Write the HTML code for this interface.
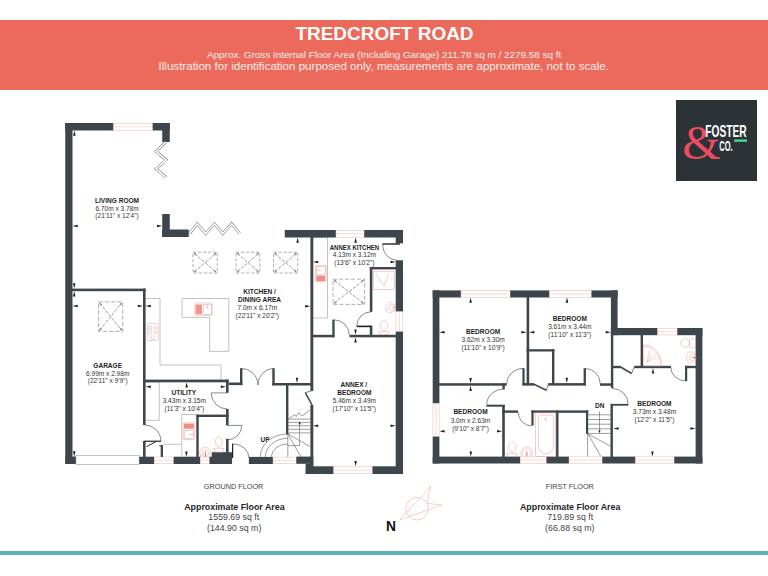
<!DOCTYPE html>
<html lang="en"><head><meta charset="utf-8"><title>Tredcroft Road</title>
<style>
html,body{margin:0;padding:0;background:#fff;}
body{width:768px;height:576px;position:relative;overflow:hidden;font-family:"Liberation Sans",sans-serif;}
.banner{position:absolute;left:0;top:20px;width:768px;height:69.7px;background:#ec6a5c;}
.logo{position:absolute;left:676px;top:99.5px;width:81px;height:81px;background:#2c3336;}
.bar{position:absolute;left:0;top:550.5px;width:768px;height:4.5px;background:#5bb1b5;}
svg{position:absolute;left:0;top:0;}
svg text{font-family:"Liberation Sans",sans-serif;}
</style></head><body>
<div class="banner"></div>
<div class="logo">
<svg width="81" height="81" viewBox="0 0 81 81">
<text x="6.6" y="59.4" font-size="49" fill="#ee4a62" style="font-family:'Liberation Serif',serif">&amp;</text>
<text x="29.3" y="37.2" font-size="16.3" font-weight="700" fill="#fff" textLength="41.4" lengthAdjust="spacingAndGlyphs">FOSTER</text>
<text x="43.2" y="50.8" font-size="14.4" font-weight="700" fill="#fff" textLength="13.4" lengthAdjust="spacingAndGlyphs">CO.</text>
<rect x="58.2" y="39.4" width="12.8" height="2.4" fill="#3ddc97"/>
</svg></div>
<svg width="768" height="576" viewBox="0 0 768 576">
<text x="295.4" y="39.6" font-size="18.3" font-weight="700" fill="#fff" textLength="178.2" lengthAdjust="spacingAndGlyphs">TREDCROFT ROAD</text>
<text x="207" y="57.8" font-size="9.9" fill="#fdeeeb" textLength="354.2" lengthAdjust="spacingAndGlyphs">Approx. Gross Internal Floor Area (Including Garage) 211.78 sq m / 2279.58 sq ft</text>
<text x="158.6" y="70.3" font-size="10.9" fill="#fdeeeb" textLength="450.3" lengthAdjust="spacingAndGlyphs">Illustration for identification purposed only, measurements are approximate, not to scale.</text>
<path d="M145.5 298.5 H160 V365 H221 V380" stroke="#a6a9ab" stroke-width="0.7" fill="none" />
<path d="M182.1 298.5 H228.8 V351.4 H209.6 V317.4 H182.1 Z" stroke="#a6a9ab" stroke-width="0.7" fill="none" />
<path d="M313 237.5 H327.5 V318 H313" stroke="#a6a9ab" stroke-width="0.7" fill="none" />
<path d="M145.7 382 H159.3 V420.3 H145.7" stroke="#a6a9ab" stroke-width="0.7" fill="none" />
<path d="M181.8 456 V414.5 H196.3" stroke="#a6a9ab" stroke-width="0.7" fill="none" />
<path d="M163 444.3 H181.8" stroke="#a6a9ab" stroke-width="0.7" fill="none" />
<rect x="65.25" y="123.00" width="7.25" height="341.00" fill="#3c464c" />
<rect x="65.25" y="123.00" width="48.25" height="7.50" fill="#3c464c" />
<rect x="113.50" y="123.25" width="39.25" height="7.00" fill="#fff" stroke="#efb4ab" stroke-width="0.5"/>
<line x1="113.50" y1="126.75" x2="152.75" y2="126.75" stroke="#efb4ab" stroke-width="0.5"/>
<rect x="152.75" y="123.00" width="17.00" height="7.50" fill="#3c464c" />
<rect x="162.25" y="123.00" width="7.50" height="19.00" fill="#3c464c" />
<rect x="162.25" y="214.00" width="7.50" height="23.00" fill="#3c464c" />
<rect x="162.25" y="229.50" width="26.50" height="7.50" fill="#3c464c" />
<rect x="284.75" y="230.00" width="51.25" height="7.50" fill="#3c464c" />
<rect x="336.00" y="230.25" width="28.25" height="7.00" fill="#fff" stroke="#efb4ab" stroke-width="0.5"/>
<line x1="336.00" y1="233.75" x2="364.25" y2="233.75" stroke="#efb4ab" stroke-width="0.5"/>
<rect x="364.25" y="230.00" width="38.75" height="7.50" fill="#3c464c" />
<rect x="395.70" y="230.00" width="7.30" height="13.30" fill="#3c464c" />
<rect x="395.70" y="260.30" width="7.30" height="51.40" fill="#3c464c" />
<rect x="395.95" y="311.70" width="6.80" height="20.00" fill="#fff" stroke="#efb4ab" stroke-width="0.5"/>
<line x1="399.35" y1="311.70" x2="399.35" y2="331.70" stroke="#efb4ab" stroke-width="0.5"/>
<rect x="395.70" y="331.70" width="7.30" height="142.30" fill="#3c464c" />
<rect x="65.25" y="456.50" width="10.75" height="7.50" fill="#3c464c" />
<rect x="76" y="455.6" width="63.2" height="9" fill="#fff" stroke="#9aa0a4" stroke-width="0.6"/>
<rect x="139.20" y="456.70" width="15.10" height="7.30" fill="#3c464c" />
<rect x="154.30" y="456.95" width="19.40" height="6.80" fill="#fff" stroke="#efb4ab" stroke-width="0.5"/>
<line x1="154.30" y1="460.35" x2="173.70" y2="460.35" stroke="#efb4ab" stroke-width="0.5"/>
<rect x="173.70" y="456.70" width="26.60" height="7.30" fill="#3c464c" />
<rect x="200.30" y="456.95" width="9.20" height="6.80" fill="#fff" stroke="#efb4ab" stroke-width="0.5"/>
<line x1="200.30" y1="460.35" x2="209.50" y2="460.35" stroke="#efb4ab" stroke-width="0.5"/>
<rect x="209.50" y="456.70" width="22.50" height="7.30" fill="#3c464c" />
<rect x="211.80" y="452.20" width="20.20" height="11.80" fill="#3c464c" />
<rect x="248.90" y="456.90" width="24.10" height="7.10" fill="#3c464c" />
<rect x="273.00" y="457.15" width="23.30" height="6.60" fill="#fff" stroke="#efb4ab" stroke-width="0.5"/>
<line x1="273.00" y1="460.45" x2="296.30" y2="460.45" stroke="#efb4ab" stroke-width="0.5"/>
<rect x="296.30" y="456.60" width="17.00" height="7.20" fill="#3c464c" />
<rect x="305.70" y="463.70" width="7.60" height="10.30" fill="#3c464c" />
<rect x="305.70" y="466.30" width="27.90" height="7.70" fill="#3c464c" />
<rect x="333.80" y="466.55" width="38.70" height="7.20" fill="#fff" stroke="#efb4ab" stroke-width="0.5"/>
<line x1="333.80" y1="470.15" x2="372.50" y2="470.15" stroke="#efb4ab" stroke-width="0.5"/>
<rect x="372.50" y="466.30" width="30.50" height="7.70" fill="#3c464c" />
<rect x="72.00" y="288.60" width="73.60" height="2.60" fill="#3c464c" />
<rect x="143.00" y="288.60" width="2.60" height="136.40" fill="#3c464c" />
<rect x="143.00" y="441.00" width="2.60" height="16.00" fill="#3c464c" />
<rect x="143.00" y="379.60" width="85.60" height="2.70" fill="#3c464c" />
<rect x="226.00" y="379.60" width="2.60" height="13.20" fill="#3c464c" />
<rect x="228.60" y="382.50" width="13.80" height="2.60" fill="#3c464c" />
<rect x="240.00" y="368.30" width="2.40" height="16.80" fill="#3c464c" />
<rect x="272.30" y="368.30" width="2.40" height="17.00" fill="#3c464c" />
<rect x="272.30" y="383.00" width="39.20" height="2.50" fill="#3c464c" />
<rect x="310.40" y="237.00" width="2.90" height="153.90" fill="#3c464c" />
<rect x="310.40" y="404.80" width="2.90" height="61.60" fill="#3c464c" />
<rect x="313.00" y="334.80" width="21.50" height="2.50" fill="#3c464c" />
<rect x="332.30" y="319.70" width="2.30" height="17.60" fill="#3c464c" />
<rect x="349.50" y="334.80" width="46.50" height="2.50" fill="#3c464c" />
<rect x="369.80" y="267.00" width="26.20" height="2.40" fill="#3c464c" />
<rect x="369.80" y="267.00" width="2.60" height="44.80" fill="#3c464c" />
<rect x="369.80" y="325.60" width="2.60" height="9.40" fill="#3c464c" />
<rect x="286.00" y="385.00" width="2.40" height="49.30" fill="#3c464c" />
<rect x="226.00" y="409.00" width="2.60" height="16.30" fill="#3c464c" />
<rect x="196.30" y="414.60" width="32.30" height="2.40" fill="#3c464c" />
<rect x="196.30" y="414.60" width="2.40" height="42.40" fill="#3c464c" />
<rect x="226.00" y="438.80" width="2.60" height="14.20" fill="#3c464c" />
<rect x="160.70" y="445.20" width="2.30" height="11.80" fill="#3c464c" />
<rect x="159.40" y="445.20" width="3.60" height="1.20" fill="#3c464c" />
<path d="M144.3 441.2 H161" stroke=" #111" stroke-width="1.1" fill="none" />
<path d="M156 441.6 L146.6 446.6" stroke="#111" stroke-width="0.9" fill="none" />
<path d="M161 441.2 A16.6 16.6 0 0 0 144.4 424.9" stroke="#3e4347" stroke-width="0.62" fill="none" />
<path d="M227.3 392.9 H211.2 A16.1 16.1 0 0 0 227.3 409" stroke="#3e4347" stroke-width="0.62" fill="none" />
<path d="M227.3 425.4 H241.8 A14.5 14.5 0 0 1 227.3 439.9" stroke="#3e4347" stroke-width="0.62" fill="none" />
<path d="M232.6 458 V443.8" stroke="#222" stroke-width="1.2" fill="none" />
<path d="M232.6 443.8 A16.4 14.4 0 0 1 249 458" stroke="#3e4347" stroke-width="0.62" fill="none" />
<path d="M241.2 368.4 A16.8 16.8 0 0 1 258 385" stroke="#3e4347" stroke-width="0.62" fill="none" />
<path d="M273.5 368.4 A15.7 16.8 0 0 0 258 385" stroke="#3e4347" stroke-width="0.62" fill="none" />
<path d="M305.2 392.7 L311.9 404.6" stroke="#3c464c" stroke-width="1.5" fill="none" />
<path d="M311.6 390.9 L305.2 392.7" stroke="#3c464c" stroke-width="0.7" fill="none" />
<path d="M333.5 319.8 A15.6 15.2 0 0 1 349.3 335" stroke="#3e4347" stroke-width="0.62" fill="none" />
<path d="M371 326.4 H356.7" stroke="#222" stroke-width="1.6" fill="none" />
<path d="M356.7 326.4 A14.4 14.6 0 0 1 371 311.8" stroke="#3e4347" stroke-width="0.62" fill="none" />
<path d="M400 244 H382.5" stroke="#111" stroke-width="1.3" fill="none" />
<path d="M382.5 244 A13.6 16 0 0 0 395.9 260" stroke="#3e4347" stroke-width="0.62" fill="none" />
<path d="M165.90 142.00 L156.10 151.40 L166.10 159.90 L156.10 168.90 L166.20 177.30" stroke="#6d7276" stroke-width="2.7" fill="none" stroke-linejoin="miter" stroke-miterlimit="10"/>
<path d="M165.90 142.00 L156.10 151.40 L166.10 159.90 L156.10 168.90 L166.20 177.30" stroke="#fff" stroke-width="1.7" fill="none" stroke-linejoin="miter" stroke-miterlimit="10"/>
<path d="M189.60 233.60 L197.30 223.70 L205.60 233.60 L214.50 223.70 L222.80 233.60 L231.50 223.70 L239.70 233.60" stroke="#6d7276" stroke-width="2.7" fill="none" stroke-linejoin="miter" stroke-miterlimit="10"/>
<path d="M189.60 233.60 L197.30 223.70 L205.60 233.60 L214.50 223.70 L222.80 233.60 L231.50 223.70 L239.70 233.60" stroke="#fff" stroke-width="1.7" fill="none" stroke-linejoin="miter" stroke-miterlimit="10"/>
<rect x="193.00" y="252.20" width="24.20" height="20.80" fill="none" stroke="#8a8f93" stroke-width="0.7" stroke-dasharray="3.3 1.7"/>
<line x1="194.40" y1="253.60" x2="215.80" y2="271.60" stroke="#858a8d" stroke-width="0.8" stroke-dasharray="3.4 1.3"/>
<line x1="194.40" y1="271.60" x2="215.80" y2="253.60" stroke="#858a8d" stroke-width="0.8" stroke-dasharray="3.4 1.3"/>
<polygon points="193.38,252.53 195.16,255.51 196.60,253.84" fill="#858a8d"/>
<polygon points="216.82,252.53 213.60,253.84 215.04,255.51" fill="#858a8d"/>
<polygon points="193.38,272.67 196.60,271.36 195.16,269.69" fill="#858a8d"/>
<polygon points="216.82,272.67 215.04,269.69 213.60,271.36" fill="#858a8d"/>
<rect x="236.00" y="252.20" width="23.80" height="20.80" fill="none" stroke="#8a8f93" stroke-width="0.7" stroke-dasharray="3.3 1.7"/>
<line x1="237.40" y1="253.60" x2="258.40" y2="271.60" stroke="#858a8d" stroke-width="0.8" stroke-dasharray="3.4 1.3"/>
<line x1="237.40" y1="271.60" x2="258.40" y2="253.60" stroke="#858a8d" stroke-width="0.8" stroke-dasharray="3.4 1.3"/>
<polygon points="236.38,252.53 238.14,255.53 239.59,253.87" fill="#858a8d"/>
<polygon points="259.42,252.53 256.21,253.87 257.66,255.53" fill="#858a8d"/>
<polygon points="236.38,272.67 239.59,271.33 238.14,269.67" fill="#858a8d"/>
<polygon points="259.42,272.67 257.66,269.67 256.21,271.33" fill="#858a8d"/>
<rect x="273.50" y="252.20" width="24.20" height="20.80" fill="none" stroke="#8a8f93" stroke-width="0.7" stroke-dasharray="3.3 1.7"/>
<line x1="274.90" y1="253.60" x2="296.30" y2="271.60" stroke="#858a8d" stroke-width="0.8" stroke-dasharray="3.4 1.3"/>
<line x1="274.90" y1="271.60" x2="296.30" y2="253.60" stroke="#858a8d" stroke-width="0.8" stroke-dasharray="3.4 1.3"/>
<polygon points="273.88,252.53 275.66,255.51 277.10,253.84" fill="#858a8d"/>
<polygon points="297.32,252.53 294.10,253.84 295.54,255.51" fill="#858a8d"/>
<polygon points="273.88,272.67 277.10,271.36 275.66,269.69" fill="#858a8d"/>
<polygon points="297.32,272.67 295.54,269.69 294.10,271.36" fill="#858a8d"/>
<rect x="98.60" y="301.90" width="24.10" height="29.50" fill="none" stroke="#8a8f93" stroke-width="0.7" stroke-dasharray="4.3 2"/>
<line x1="100.00" y1="303.30" x2="121.30" y2="330.00" stroke="#858a8d" stroke-width="0.8" stroke-dasharray="3.4 1.3"/>
<line x1="100.00" y1="330.00" x2="121.30" y2="303.30" stroke="#858a8d" stroke-width="0.8" stroke-dasharray="3.4 1.3"/>
<polygon points="98.92,302.29 100.15,305.54 101.86,304.15" fill="#858a8d"/>
<polygon points="122.38,302.29 119.44,304.15 121.15,305.54" fill="#858a8d"/>
<polygon points="98.92,331.01 101.86,329.15 100.15,327.76" fill="#858a8d"/>
<polygon points="122.38,331.01 121.15,327.76 119.44,329.15" fill="#858a8d"/>
<rect x="333.00" y="279.20" width="31.60" height="25.20" fill="none" stroke="#8a8f93" stroke-width="0.7" stroke-dasharray="4 2"/>
<line x1="334.40" y1="280.60" x2="363.20" y2="303.00" stroke="#858a8d" stroke-width="0.8" stroke-dasharray="3.4 1.3"/>
<line x1="334.40" y1="303.00" x2="363.20" y2="280.60" stroke="#858a8d" stroke-width="0.8" stroke-dasharray="3.4 1.3"/>
<polygon points="333.39,279.51 335.29,282.43 336.66,280.71" fill="#858a8d"/>
<polygon points="364.21,279.51 360.94,280.71 362.31,282.43" fill="#858a8d"/>
<polygon points="333.39,304.09 336.66,302.89 335.29,301.17" fill="#858a8d"/>
<polygon points="364.21,304.09 362.31,301.17 360.94,302.89" fill="#858a8d"/>
<rect x="147.25" y="323.50" width="10.85" height="17.00" fill="none" stroke="#ec9b91" stroke-width="0.5" rx="1.5"/>
<circle cx="150.00" cy="328.00" r="1.8" fill="none" stroke="#ec9b91" stroke-width="0.5"/>
<circle cx="150.00" cy="332.60" r="1.6" fill="none" stroke="#ec9b91" stroke-width="0.5"/>
<circle cx="152.50" cy="337.50" r="1.9" fill="none" stroke="#ec9b91" stroke-width="0.5"/>
<circle cx="155.25" cy="328.00" r="1.4" fill="none" stroke="#ec9b91" stroke-width="0.5"/>
<circle cx="155.25" cy="332.60" r="1.4" fill="none" stroke="#ec9b91" stroke-width="0.5"/>
<rect x="194.60" y="303.00" width="17.65" height="12.50" fill="none" stroke="#ec9b91" stroke-width="0.5" rx="1.5"/>
<rect x="195.60" y="304.40" width="6.30" height="10.00" fill="#f0958b" />
<rect x="203.10" y="304.40" width="8.15" height="10.00" fill="none" stroke="#ec9b91" stroke-width="0.5" rx="0"/>
<line x1="207.20" y1="304.40" x2="207.20" y2="309.00" stroke="#ec9b91" stroke-width="0.7" />
<rect x="315.30" y="265.30" width="10.90" height="16.70" fill="none" stroke="#ec9b91" stroke-width="0.5" rx="1"/>
<rect x="316.20" y="275.70" width="9.10" height="5.50" fill="#ef8f84" />
<rect x="316.40" y="266.40" width="8.80" height="8.00" fill="none" stroke="#ec9b91" stroke-width="0.5" rx="0"/>
<line x1="316.40" y1="270.30" x2="321.00" y2="270.30" stroke="#ec9b91" stroke-width="0.6" />
<rect x="183.20" y="422.80" width="11.50" height="16.70" fill="none" stroke="#ec9b91" stroke-width="0.5" rx="1"/>
<rect x="184.00" y="423.60" width="9.90" height="5.20" fill="#ef8f84" />
<rect x="184.20" y="430.50" width="9.50" height="8.00" fill="none" stroke="#ec9b91" stroke-width="0.5" rx="0"/>
<line x1="193.70" y1="434.50" x2="189.00" y2="434.50" stroke="#ec9b91" stroke-width="0.6" />
<ellipse cx="218.90" cy="441.80" rx="3.6" ry="4.9" fill="none" stroke="#ec9b91" stroke-width="0.5"/>
<rect x="214.20" y="448.10" width="9.40" height="3.90" fill="none" stroke="#ec9b91" stroke-width="0.5" rx="0"/>
<path d="M201.35 456.8 A5.55 5.55 0 1 1 209.25 456.8" stroke="#ec9b91" stroke-width="0.5" fill="none" />
<circle cx="205.30" cy="453.10" r="3.4" fill="none" stroke="#ec9b91" stroke-width="0.5"/>
<line x1="205.30" y1="451.60" x2="205.30" y2="456.80" stroke="#e0574c" stroke-width="0.9" />
<rect x="373.40" y="271.20" width="20.80" height="18.10" fill="none" stroke="#ec9b91" stroke-width="0.5" rx="0"/>
<path d="M376 274 L384 286 L389 274" stroke="#ec9b91" stroke-width="0.5" fill="none" />
<path d="M392 274 V283" stroke="#ec9b91" stroke-width="0.5" fill="none" stroke-dasharray="1 1.5"/>
<ellipse cx="390.40" cy="307.40" rx="4.6" ry="5.2" fill="none" stroke="#ec9b91" stroke-width="0.5"/>
<ellipse cx="391.60" cy="307.40" rx="2.8" ry="3.2" fill="none" stroke="#ec9b91" stroke-width="0.5"/>
<line x1="392.50" y1="307.40" x2="396.00" y2="307.40" stroke="#ec9b91" stroke-width="0.8" />
<ellipse cx="383.80" cy="325.50" rx="3.7" ry="5.2" fill="none" stroke="#ec9b91" stroke-width="0.5"/>
<rect x="379.20" y="331.80" width="9.20" height="2.70" fill="none" stroke="#ec9b91" stroke-width="0.5" rx="0"/>
<line x1="288.40" y1="419.10" x2="310.30" y2="419.10" stroke="#4a4f53" stroke-width="0.55" />
<line x1="288.40" y1="422.40" x2="310.30" y2="422.40" stroke="#4a4f53" stroke-width="0.55" />
<line x1="288.40" y1="425.80" x2="310.30" y2="425.80" stroke="#4a4f53" stroke-width="0.55" />
<line x1="288.40" y1="429.30" x2="310.30" y2="429.30" stroke="#4a4f53" stroke-width="0.55" />
<line x1="288.40" y1="432.90" x2="310.30" y2="432.90" stroke="#4a4f53" stroke-width="0.55" />
<path d="M288.6 418.9 L294.8 414.6 L296.2 416.6 L298.6 412.6 L300.2 414.9 L303 415.5 L310.3 409.6" stroke="#4a4f53" stroke-width="0.55" fill="none" />
<path d="M299.6 423.5 V445.6 H288" stroke="#4a4f53" stroke-width="0.55" fill="none" />
<polygon points="299.6,421.2 298.5,424.2 300.7,424.2" fill="#222"/>
<line x1="287.80" y1="433.50" x2="287.80" y2="456.90" stroke="#4a4f53" stroke-width="0.55" />
<line x1="287.80" y1="433.90" x2="310.30" y2="446.70" stroke="#4a4f53" stroke-width="0.55" />
<line x1="287.80" y1="433.90" x2="300.90" y2="456.90" stroke="#4a4f53" stroke-width="0.55" />
<path d="M260.3 456.9 A27.5 23 0 0 1 287.8 433.9" stroke="#4a4f53" stroke-width="0.55" fill="none" />
<path d="M265.3 456.9 A22.5 18.6 0 0 1 287.8 438.3" stroke="#4a4f53" stroke-width="0.55" fill="none" />
<path d="M271.4 456.9 A16.4 13 0 0 1 287.8 443.9" stroke="#4a4f53" stroke-width="0.55" fill="none" />
<polygon points="74.40,130.60 73.15,135.80 75.65,135.80" fill="#1c1c1c"/>
<polygon points="74.20,288.50 72.95,283.30 75.45,283.30" fill="#1c1c1c"/>
<polygon points="74.20,291.30 72.95,296.50 75.45,296.50" fill="#1c1c1c"/>
<polygon points="74.20,456.50 72.95,451.30 75.45,451.30" fill="#1c1c1c"/>
<polygon points="72.50,225.90 77.70,224.65 77.70,227.15" fill="#1c1c1c"/>
<polygon points="162.20,225.90 157.00,224.65 157.00,227.15" fill="#1c1c1c"/>
<polygon points="72.50,306.00 77.70,304.75 77.70,307.25" fill="#1c1c1c"/>
<polygon points="143.00,306.00 137.80,304.75 137.80,307.25" fill="#1c1c1c"/>
<polygon points="145.60,306.00 150.80,304.75 150.80,307.25" fill="#1c1c1c"/>
<polygon points="310.30,306.30 305.10,305.05 305.10,307.55" fill="#1c1c1c"/>
<polygon points="297.60,237.60 296.35,242.80 298.85,242.80" fill="#1c1c1c"/>
<polygon points="297.00,383.00 295.75,377.80 298.25,377.80" fill="#1c1c1c"/>
<polygon points="313.00,262.00 318.20,260.75 318.20,263.25" fill="#1c1c1c"/>
<polygon points="395.70,262.00 390.50,260.75 390.50,263.25" fill="#1c1c1c"/>
<polygon points="355.60,237.60 354.35,242.80 356.85,242.80" fill="#1c1c1c"/>
<polygon points="355.50,334.80 354.25,329.60 356.75,329.60" fill="#1c1c1c"/>
<polygon points="355.50,337.40 354.25,342.60 356.75,342.60" fill="#1c1c1c"/>
<polygon points="355.60,466.30 354.35,461.10 356.85,461.10" fill="#1c1c1c"/>
<polygon points="313.00,425.80 318.20,424.55 318.20,427.05" fill="#1c1c1c"/>
<polygon points="395.70,425.80 390.50,424.55 390.50,427.05" fill="#1c1c1c"/>
<polygon points="145.60,386.80 150.80,385.55 150.80,388.05" fill="#1c1c1c"/>
<polygon points="226.00,386.80 220.80,385.55 220.80,388.05" fill="#1c1c1c"/>
<polygon points="186.60,382.40 185.35,387.60 187.85,387.60" fill="#1c1c1c"/>
<polygon points="186.40,456.70 185.15,451.50 187.65,451.50" fill="#1c1c1c"/>
<text x="117.05" y="203.00" font-size="6.55" font-weight="700" fill="#1e1e1e" text-anchor="middle">LIVING ROOM</text>
<text x="117.05" y="210.70" font-size="6.55" fill="#333" text-anchor="middle">6.70m x 3.78m</text>
<text x="117.05" y="218.20" font-size="6.55" fill="#333" text-anchor="middle">(21'11&quot; x 12'4&quot;)</text>
<text x="259.55" y="294.40" font-size="6.55" font-weight="700" fill="#1e1e1e" text-anchor="middle">KITCHEN /</text>
<text x="259.55" y="301.90" font-size="6.55" font-weight="700" fill="#1e1e1e" text-anchor="middle">DINING AREA</text>
<text x="257.30" y="309.80" font-size="6.55" fill="#333" text-anchor="middle">7.0m x 6.17m</text>
<text x="257.30" y="318.00" font-size="6.55" fill="#333" text-anchor="middle">(22'11&quot; x 20'2&quot;)</text>
<text x="107.70" y="367.50" font-size="6.55" font-weight="700" fill="#1e1e1e" text-anchor="middle">GARAGE</text>
<text x="107.70" y="375.60" font-size="6.55" fill="#333" text-anchor="middle">6.99m x 2.98m</text>
<text x="107.70" y="383.10" font-size="6.55" fill="#333" text-anchor="middle">(22'11&quot; x 9'9&quot;)</text>
<text x="183.80" y="395.25" font-size="6.55" font-weight="700" fill="#1e1e1e" text-anchor="middle">UTILITY</text>
<text x="184.30" y="403.20" font-size="6.55" fill="#333" text-anchor="middle">3.43m x 3.15m</text>
<text x="184.40" y="411.10" font-size="6.55" fill="#333" text-anchor="middle">(11'3&quot; x 10'4&quot;)</text>
<text x="354.40" y="249.60" font-size="6.55" font-weight="700" fill="#1e1e1e" text-anchor="middle" textLength="49.30" lengthAdjust="spacingAndGlyphs">ANNEX KITCHEN</text>
<text x="354.40" y="256.80" font-size="6.55" fill="#333" text-anchor="middle">4.13m x 3.12m</text>
<text x="354.40" y="264.60" font-size="6.55" fill="#333" text-anchor="middle">(13'6&quot; x 10'2&quot;)</text>
<text x="353.90" y="387.25" font-size="6.55" font-weight="700" fill="#1e1e1e" text-anchor="middle">ANNEX /</text>
<text x="354.40" y="395.30" font-size="6.55" font-weight="700" fill="#1e1e1e" text-anchor="middle">BEDROOM</text>
<text x="354.40" y="403.30" font-size="6.55" fill="#333" text-anchor="middle">5.46m x 3.49m</text>
<text x="354.30" y="411.20" font-size="6.55" fill="#333" text-anchor="middle">(17'10&quot; x 11'5&quot;)</text>
<text x="265.1" y="442.2" font-size="6.5" font-weight="700" fill="#1e1e1e" text-anchor="middle">UP</text>
<rect x="432.70" y="290.40" width="6.70" height="113.00" fill="#3c464c" />
<rect x="432.95" y="403.40" width="6.20" height="33.20" fill="#fff" stroke="#efb4ab" stroke-width="0.5"/>
<line x1="436.05" y1="403.40" x2="436.05" y2="436.60" stroke="#efb4ab" stroke-width="0.5"/>
<rect x="432.70" y="436.60" width="6.70" height="26.90" fill="#3c464c" />
<rect x="432.70" y="290.40" width="28.30" height="7.10" fill="#3c464c" />
<rect x="461.00" y="290.65" width="49.20" height="6.60" fill="#fff" stroke="#efb4ab" stroke-width="0.5"/>
<line x1="461.00" y1="293.95" x2="510.20" y2="293.95" stroke="#efb4ab" stroke-width="0.5"/>
<rect x="510.20" y="290.40" width="39.30" height="7.10" fill="#3c464c" />
<rect x="549.50" y="290.65" width="42.00" height="6.60" fill="#fff" stroke="#efb4ab" stroke-width="0.5"/>
<line x1="549.50" y1="293.95" x2="591.50" y2="293.95" stroke="#efb4ab" stroke-width="0.5"/>
<rect x="591.50" y="290.40" width="26.10" height="7.10" fill="#3c464c" />
<rect x="610.90" y="290.40" width="6.70" height="44.80" fill="#3c464c" />
<rect x="610.90" y="328.00" width="46.70" height="7.20" fill="#3c464c" />
<rect x="657.60" y="328.25" width="19.70" height="6.70" fill="#fff" stroke="#efb4ab" stroke-width="0.5"/>
<line x1="657.60" y1="331.60" x2="677.30" y2="331.60" stroke="#efb4ab" stroke-width="0.5"/>
<rect x="677.30" y="328.00" width="25.10" height="7.20" fill="#3c464c" />
<rect x="695.60" y="328.00" width="6.80" height="135.50" fill="#3c464c" />
<rect x="432.70" y="456.60" width="87.60" height="6.90" fill="#3c464c" />
<rect x="520.30" y="456.85" width="26.20" height="6.40" fill="#fff" stroke="#efb4ab" stroke-width="0.5"/>
<line x1="520.30" y1="460.05" x2="546.50" y2="460.05" stroke="#efb4ab" stroke-width="0.5"/>
<rect x="546.50" y="456.60" width="22.50" height="6.90" fill="#3c464c" />
<rect x="569.00" y="456.85" width="33.30" height="6.40" fill="#fff" stroke="#efb4ab" stroke-width="0.5"/>
<line x1="569.00" y1="460.05" x2="602.30" y2="460.05" stroke="#efb4ab" stroke-width="0.5"/>
<rect x="602.30" y="456.60" width="33.20" height="6.90" fill="#3c464c" />
<rect x="635.50" y="456.85" width="38.80" height="6.40" fill="#fff" stroke="#efb4ab" stroke-width="0.5"/>
<line x1="635.50" y1="460.05" x2="674.30" y2="460.05" stroke="#efb4ab" stroke-width="0.5"/>
<rect x="674.30" y="456.60" width="28.10" height="6.90" fill="#3c464c" />
<rect x="526.60" y="297.00" width="2.60" height="88.20" fill="#3c464c" />
<rect x="439.00" y="383.20" width="67.70" height="2.50" fill="#3c464c" />
<rect x="502.40" y="383.20" width="2.40" height="6.20" fill="#3c464c" />
<rect x="526.60" y="349.20" width="27.80" height="2.30" fill="#3c464c" />
<rect x="552.00" y="349.20" width="2.40" height="36.00" fill="#3c464c" />
<rect x="522.40" y="368.30" width="2.20" height="16.90" fill="#3c464c" />
<rect x="522.40" y="383.10" width="11.60" height="2.50" fill="#3c464c" />
<rect x="548.20" y="383.10" width="37.70" height="2.50" fill="#3c464c" />
<rect x="583.60" y="368.30" width="2.30" height="17.00" fill="#3c464c" />
<rect x="600.00" y="383.30" width="12.00" height="2.50" fill="#3c464c" />
<rect x="610.90" y="335.00" width="2.40" height="53.00" fill="#3c464c" />
<rect x="610.50" y="403.90" width="2.40" height="53.10" fill="#3c464c" />
<rect x="640.60" y="335.00" width="2.40" height="31.20" fill="#3c464c" />
<rect x="612.00" y="365.80" width="8.80" height="2.40" fill="#3c464c" />
<rect x="634.20" y="365.80" width="36.60" height="2.40" fill="#3c464c" />
<rect x="685.00" y="365.80" width="11.00" height="2.40" fill="#3c464c" />
<rect x="685.00" y="365.80" width="2.20" height="15.20" fill="#3c464c" />
<rect x="502.20" y="405.00" width="2.60" height="52.00" fill="#3c464c" />
<rect x="486.50" y="404.70" width="18.30" height="2.00" fill="#3c464c" />
<rect x="502.20" y="410.40" width="15.80" height="2.40" fill="#3c464c" />
<rect x="531.40" y="410.40" width="56.80" height="2.40" fill="#3c464c" />
<rect x="531.40" y="410.40" width="2.20" height="15.20" fill="#3c464c" />
<rect x="556.10" y="410.40" width="2.40" height="46.60" fill="#3c464c" />
<rect x="586.00" y="410.40" width="2.20" height="23.50" fill="#3c464c" />
<path d="M523.4 368.4 A16.8 15.6 0 0 0 506.7 384" stroke="#3e4347" stroke-width="0.62" fill="none" />
<path d="M584.8 368.4 A15.4 15.2 0 0 1 600.2 383.6" stroke="#3e4347" stroke-width="0.62" fill="none" />
<path d="M486.6 404.8 A16.4 15.6 0 0 1 503.5 389.3" stroke="#3e4347" stroke-width="0.62" fill="none" />
<path d="M518.3 412.4 A13.4 13.4 0 0 0 531.7 425.9" stroke="#3e4347" stroke-width="0.62" fill="none" />
<path d="M612.2 388.4 A16 16 0 0 1 628.2 404.4" stroke="#3e4347" stroke-width="0.62" fill="none" />
<rect x="610.90" y="403.90" width="17.30" height="1.80" fill="#3c464c" />
<path d="M670.8 367 A15 14 0 0 0 685.8 381" stroke="#3e4347" stroke-width="0.62" fill="none" />
<path d="M533.9 384.3 L546.4 390.3" stroke="#3c464c" stroke-width="1.5" fill="none" />
<path d="M546.4 390.3 L548.3 384.3" stroke="#3c464c" stroke-width="0.7" fill="none" />
<path d="M620.6 367 L631.6 373.5" stroke="#3c464c" stroke-width="1.5" fill="none" />
<path d="M631.6 373.5 L634.4 366.8" stroke="#3c464c" stroke-width="0.7" fill="none" />
<line x1="588.20" y1="414.80" x2="610.90" y2="414.80" stroke="#4a4f53" stroke-width="0.55" />
<line x1="588.20" y1="419.50" x2="610.90" y2="419.50" stroke="#4a4f53" stroke-width="0.55" />
<line x1="588.20" y1="424.20" x2="610.90" y2="424.20" stroke="#4a4f53" stroke-width="0.55" />
<line x1="588.20" y1="428.80" x2="610.90" y2="428.80" stroke="#4a4f53" stroke-width="0.55" />
<line x1="588.20" y1="433.40" x2="610.90" y2="433.40" stroke="#4a4f53" stroke-width="0.55" />
<line x1="599.50" y1="411.50" x2="599.50" y2="430.40" stroke="#4a4f53" stroke-width="0.55" />
<polygon points="599.5,433.2 598.4,430.2 600.6,430.2" fill="#222"/>
<path d="M588 433.9 L610.9 446.4 M588 433.9 L600.9 456.6 M587.6 433.9 V456.6" stroke="#4a4f53" stroke-width="0.55" fill="none" />
<text x="599.7" y="408.2" font-size="6.5" font-weight="700" fill="#1e1e1e" text-anchor="middle">DN</text>
<rect x="535.60" y="412.90" width="20.00" height="43.50" fill="none" stroke="#ec9b91" stroke-width="0.5" rx="0"/>
<path d="M540.4 415.2 H551.3 Q553.3 415.2 553.3 417.2 V446.5 A7.45 7.3 0 0 1 538.4 446.5 V417.2 Q538.4 415.2 540.4 415.2 Z" stroke="#ec9b91" stroke-width="0.5" fill="none" />
<circle cx="545.50" cy="418.90" r="0.65" fill="#ec9b91" stroke="#ec9b91" stroke-width="0.5"/>
<ellipse cx="512.20" cy="447.10" rx="3.8" ry="5" fill="none" stroke="#ec9b91" stroke-width="0.5"/>
<rect x="507.70" y="453.20" width="9.00" height="3.20" fill="none" stroke="#ec9b91" stroke-width="0.5" rx="0"/>
<path d="M521.83 456.5 A6 6 0 1 1 531.57 456.5" stroke="#ec9b91" stroke-width="0.5" fill="none" />
<path d="M524.04 456.5 A4.3 4.3 0 1 1 529.56 456.5" stroke="#ec9b91" stroke-width="0.5" fill="none" />
<line x1="526.80" y1="451.60" x2="526.80" y2="456.50" stroke="#e0574c" stroke-width="0.9" />
<path d="M643.6 344.8 A18.4 21.2 0 0 1 662 366 L643.6 366 Z" stroke="#ec9b91" stroke-width="0.5" fill="none" />
<path d="M644 346.4 A16.6 19.4 0 0 1 660.6 365.6" stroke="#ec9b91" stroke-width="0.5" fill="none" />
<line x1="647.20" y1="361.90" x2="651.00" y2="351.00" stroke="#ec9b91" stroke-width="0.38" />
<line x1="647.20" y1="361.90" x2="654.30" y2="352.50" stroke="#ec9b91" stroke-width="0.38" />
<line x1="647.20" y1="361.90" x2="656.60" y2="355.30" stroke="#ec9b91" stroke-width="0.38" />
<line x1="647.20" y1="361.90" x2="658.00" y2="357.80" stroke="#ec9b91" stroke-width="0.38" />
<line x1="647.20" y1="361.90" x2="649.00" y2="350.00" stroke="#ec9b91" stroke-width="0.38" />
<ellipse cx="685.00" cy="343.10" rx="4.5" ry="4.2" fill="none" stroke="#ec9b91" stroke-width="0.5"/>
<rect x="689.60" y="338.60" width="6.00" height="9.20" fill="none" stroke="#ec9b91" stroke-width="0.5" rx="1.5"/>
<ellipse cx="691.20" cy="357.60" rx="4.8" ry="5.8" fill="none" stroke="#ec9b91" stroke-width="0.5"/>
<ellipse cx="692.40" cy="357.60" rx="2.8" ry="3.4" fill="none" stroke="#ec9b91" stroke-width="0.5"/>
<line x1="692.60" y1="357.60" x2="696.00" y2="357.60" stroke="#e0574c" stroke-width="0.9" />
<polygon points="470.60,297.60 469.35,302.80 471.85,302.80" fill="#1c1c1c"/>
<polygon points="470.60,383.20 469.35,378.00 471.85,378.00" fill="#1c1c1c"/>
<polygon points="439.40,332.20 444.60,330.95 444.60,333.45" fill="#1c1c1c"/>
<polygon points="526.60,332.20 521.40,330.95 521.40,333.45" fill="#1c1c1c"/>
<polygon points="567.00,297.60 565.75,302.80 568.25,302.80" fill="#1c1c1c"/>
<polygon points="566.80,383.00 565.55,377.80 568.05,377.80" fill="#1c1c1c"/>
<polygon points="529.20,332.20 534.40,330.95 534.40,333.45" fill="#1c1c1c"/>
<polygon points="610.90,332.20 605.70,330.95 605.70,333.45" fill="#1c1c1c"/>
<polygon points="470.60,385.80 469.35,391.00 471.85,391.00" fill="#1c1c1c"/>
<polygon points="470.80,456.60 469.55,451.40 472.05,451.40" fill="#1c1c1c"/>
<polygon points="439.40,431.30 444.60,430.05 444.60,432.55" fill="#1c1c1c"/>
<polygon points="502.20,431.30 497.00,430.05 497.00,432.55" fill="#1c1c1c"/>
<polygon points="653.00,368.30 651.75,373.50 654.25,373.50" fill="#1c1c1c"/>
<polygon points="652.40,456.60 651.15,451.40 653.65,451.40" fill="#1c1c1c"/>
<polygon points="613.40,428.60 618.60,427.35 618.60,429.85" fill="#1c1c1c"/>
<polygon points="695.60,428.60 690.40,427.35 690.40,429.85" fill="#1c1c1c"/>
<text x="483.10" y="333.70" font-size="6.55" font-weight="700" fill="#1e1e1e" text-anchor="middle">BEDROOM</text>
<text x="483.10" y="341.80" font-size="6.55" fill="#333" text-anchor="middle">3.62m x 3.30m</text>
<text x="483.10" y="349.50" font-size="6.55" fill="#333" text-anchor="middle">(11'10&quot; x 10'9&quot;)</text>
<text x="569.80" y="320.70" font-size="6.55" font-weight="700" fill="#1e1e1e" text-anchor="middle">BEDROOM</text>
<text x="569.80" y="328.50" font-size="6.55" fill="#333" text-anchor="middle">3.61m x 3.44m</text>
<text x="569.80" y="336.50" font-size="6.55" fill="#333" text-anchor="middle">(11'10&quot; x 11'3&quot;)</text>
<text x="470.50" y="414.40" font-size="6.55" font-weight="700" fill="#1e1e1e" text-anchor="middle">BEDROOM</text>
<text x="470.50" y="422.50" font-size="6.55" fill="#333" text-anchor="middle">3.0m x 2.63m</text>
<text x="470.50" y="430.50" font-size="6.55" fill="#333" text-anchor="middle">(9'10&quot; x 8'7&quot;)</text>
<text x="654.45" y="406.00" font-size="6.55" font-weight="700" fill="#1e1e1e" text-anchor="middle">BEDROOM</text>
<text x="654.45" y="413.90" font-size="6.55" fill="#333" text-anchor="middle">3.73m x 3.48m</text>
<text x="654.45" y="421.80" font-size="6.55" fill="#333" text-anchor="middle">(12'2&quot; x 11'5&quot;)</text>
<g stroke="#eaa89f" stroke-width="0.55" fill="none">
<circle cx="417" cy="508.7" r="11.3"/>
<path d="M400 519.7 L430.8 486.2 L427 503.3 L442 505 Z"/>
</g>
<text x="233.6" y="489" font-size="7.3" fill="#444" text-anchor="middle">GROUND FLOOR</text>
<text x="234.4" y="509.7" font-size="8.85" font-weight="700" fill="#262626" text-anchor="middle">Approximate Floor Area</text>
<text x="233.8" y="520.2" font-size="8.8" fill="#444" text-anchor="middle">1559.69 sq ft</text>
<text x="234.2" y="530.7" font-size="8.8" fill="#444" text-anchor="middle">(144.90 sq m)</text>
<text x="569.8" y="489" font-size="7.3" fill="#444" text-anchor="middle">FIRST FLOOR</text>
<text x="570.2" y="509.7" font-size="8.85" font-weight="700" fill="#262626" text-anchor="middle">Approximate Floor Area</text>
<text x="570.2" y="520.2" font-size="8.8" fill="#444" text-anchor="middle">719.89 sq ft</text>
<text x="569.8" y="530.7" font-size="8.8" fill="#444" text-anchor="middle">(66.88 sq m)</text>
<text x="386.1" y="530.5" font-size="13.8" font-weight="700" fill="#111">N</text>
</svg>
<div class="bar"></div>
</body></html>
